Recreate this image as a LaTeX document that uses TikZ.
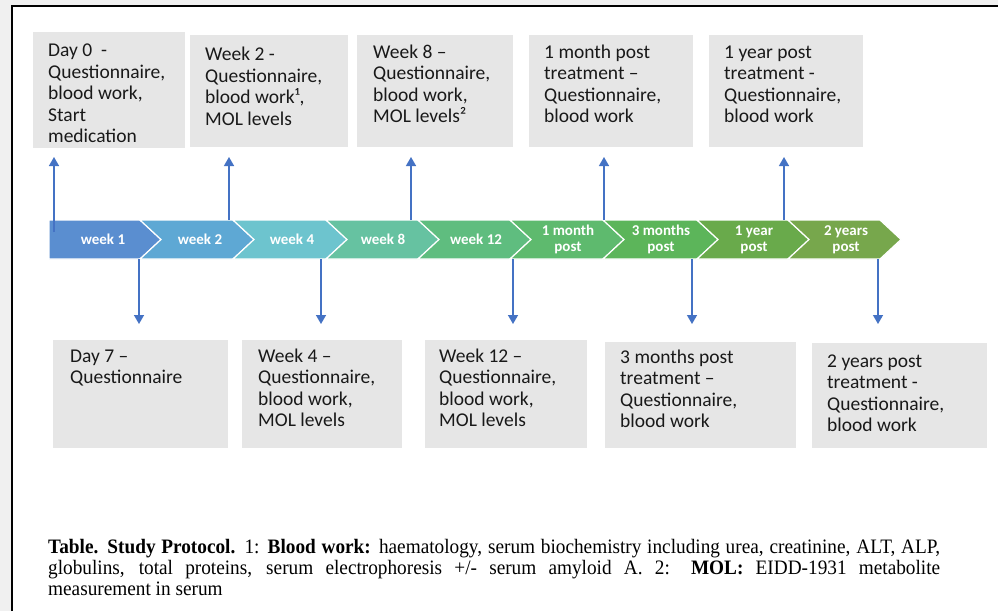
\documentclass[tikz,border=0pt]{standalone}
\usepackage{fontspec}
\setmainfont{Liberation Serif}
\newfontfamily\calfont{Carlito}
\newfontfamily\capfont[FakeStretch=0.94]{Liberation Serif}
\usetikzlibrary{arrows.meta}
\definecolor{bggray}{HTML}{F0F0F0}
\definecolor{boxgray}{HTML}{E6E6E6}
\definecolor{arrblue}{HTML}{4472C4}
\definecolor{ca}{HTML}{5A8ED0}
\definecolor{cb}{HTML}{5EA8D4}
\definecolor{cc}{HTML}{6DC4CE}
\definecolor{cd}{HTML}{66C2A1}
\definecolor{ce}{HTML}{5FBD7F}
\definecolor{cf}{HTML}{5EBA6E}
\definecolor{cg}{HTML}{5CB55A}
\definecolor{ch}{HTML}{69AA4B}
\definecolor{ci}{HTML}{77A74C}
\begin{document}
\begin{tikzpicture}[x=1pt,y=-1pt,
  chevlab/.style={inner sep=0pt, text=white, align=center,
    font=\calfont\bfseries\fontsize{15}{16}\selectfont},
  graybox/.style={fill=boxgray, draw=none, inner sep=0pt},
  boxtxt/.style={inner sep=0pt, anchor=base west,
    font=\calfont\fontsize{19.5}{21.5}\selectfont, text=black!90},
  arr/.style={draw=arrblue, line width=1.4pt,
    -{Triangle[width=10pt,length=9pt]}}]
\useasboundingbox (0,0) rectangle (998,611);
\fill[bggray] (0,0) rectangle (998,611);
\fill[white] (12,6) rectangle (998,611);
\draw[line width=2.5pt, line join=miter] (12,611) -- (12,6) -- (998,6);

% gray boxes
\path[graybox] (33,32) rectangle (185,148);
\path[graybox] (190,35) rectangle (348,147);
\path[graybox] (357,35) rectangle (513,147);
\path[graybox] (529,35) rectangle (693,147);
\path[graybox] (709,35) rectangle (863,147);
\path[graybox] (53,340) rectangle (228,448);
\path[graybox] (242,340) rectangle (402,448);
\path[graybox] (425,340) rectangle (587,448);
\path[graybox] (605,342) rectangle (796,448);
\path[graybox] (812,343) rectangle (987,448);

% box texts
\node[boxtxt] (t1) at (48,56.7) {\parbox[t]{140pt}{Day 0\ \ -\\Questionnaire,\\blood work,\\Start\\medication}};
\node[boxtxt] (t2) at (205,60.5) {\parbox[t]{140pt}{Week 2 -\\Questionnaire,\\blood work¹,\\MOL levels}};
\node[boxtxt] (t3) at (373,58.3) {\parbox[t]{140pt}{Week 8 –\\Questionnaire,\\blood work,\\MOL levels²}};
\node[boxtxt] (t4) at (544,58.3) {\parbox[t]{150pt}{1 month post\\treatment –\\Questionnaire,\\blood work}};
\node[boxtxt] (t5) at (724,58.3) {\parbox[t]{140pt}{1 year post\\treatment -\\Questionnaire,\\blood work}};
\node[boxtxt] (t6) at (70,362) {\parbox[t]{150pt}{Day 7 –\\Questionnaire}};
\node[boxtxt] (t7) at (258,362) {\parbox[t]{140pt}{Week 4 –\\Questionnaire,\\blood work,\\MOL levels}};
\node[boxtxt] (t8) at (439,362) {\parbox[t]{140pt}{Week 12 –\\Questionnaire,\\blood work,\\MOL levels}};
\node[boxtxt] (t9) at (620,363) {\parbox[t]{170pt}{3 months post\\treatment –\\Questionnaire,\\blood work}};
\node[boxtxt] (t10) at (827,367) {\parbox[t]{150pt}{2 years post\\treatment -\\Questionnaire,\\blood work}};

% chevrons
\foreach \L/\R/\c/\n in {49/140/ca/0, 140/233/cb/21, 233/326/cc/21, 326/418/cd/21,
    418/510/ce/21, 510/603/cf/21, 603/697/cg/21, 697/788/ch/21, 788/880/ci/21}{
  \filldraw[fill=\c, draw=white, line width=1.2pt, line join=miter]
    (\L,220) -- (\R,220) -- (\R+21,239.5) -- (\R,259) -- (\L,259) -- (\L+\n,239.5) -- cycle;
}
\node[chevlab] (l1) at (103,239.5) {week 1};
\node[chevlab] (l2) at (200,239.5) {week 2};
\node[chevlab] (l3) at (292,239.5) {week 4};
\node[chevlab] (l4) at (383,239.5) {week 8};
\node[chevlab] (l5) at (476,239.5) {week 12};
\node[chevlab] (l6) at (568,239.5) {1 month\\post};
\node[chevlab] (l7) at (661,239.5) {3 months\\post};
\node[chevlab] (l8) at (754,239.5) {1 year\\post};
\node[chevlab] (l9) at (846,239.5) {2 years\\post};

% arrows up
\coordinate (ua1) at (54,232); \coordinate (ub1) at (54,157);
\coordinate (ua2) at (229,220); \coordinate (ub2) at (229,157);
\coordinate (ua3) at (411,220); \coordinate (ub3) at (411,157);
\coordinate (ua4) at (604,220); \coordinate (ub4) at (604,157);
\coordinate (ua5) at (784,220); \coordinate (ub5) at (784,157);
\foreach \i in {1,...,5}{\draw[arr] (ua\i) -- (ub\i);}
% arrows down
\coordinate (da1) at (139,259); \coordinate (db1) at (139,324);
\coordinate (da2) at (321,259); \coordinate (db2) at (321,324);
\coordinate (da3) at (513,259); \coordinate (db3) at (513,324);
\coordinate (da4) at (692,259); \coordinate (db4) at (692,324);
\coordinate (da5) at (878,259); \coordinate (db5) at (878,324);
\foreach \i in {1,...,5}{\draw[arr] (da\i) -- (db\i);}

% caption
\node[inner sep=0pt, anchor=base west, font=\capfont\fontsize{20.5}{21}\selectfont] (cap) at (48,553)
 {\parbox[t]{892pt}{\textbf{Table. Study Protocol.} 1: \textbf{Blood work:} haematology, serum biochemistry including urea, creatinine, ALT, ALP,\linebreak globulins, total proteins, serum electrophoresis +/- serum amyloid A. 2: \textbf{MOL:} EIDD-1931 metabolite\linebreak measurement in serum}};
\end{tikzpicture}
\end{document}
